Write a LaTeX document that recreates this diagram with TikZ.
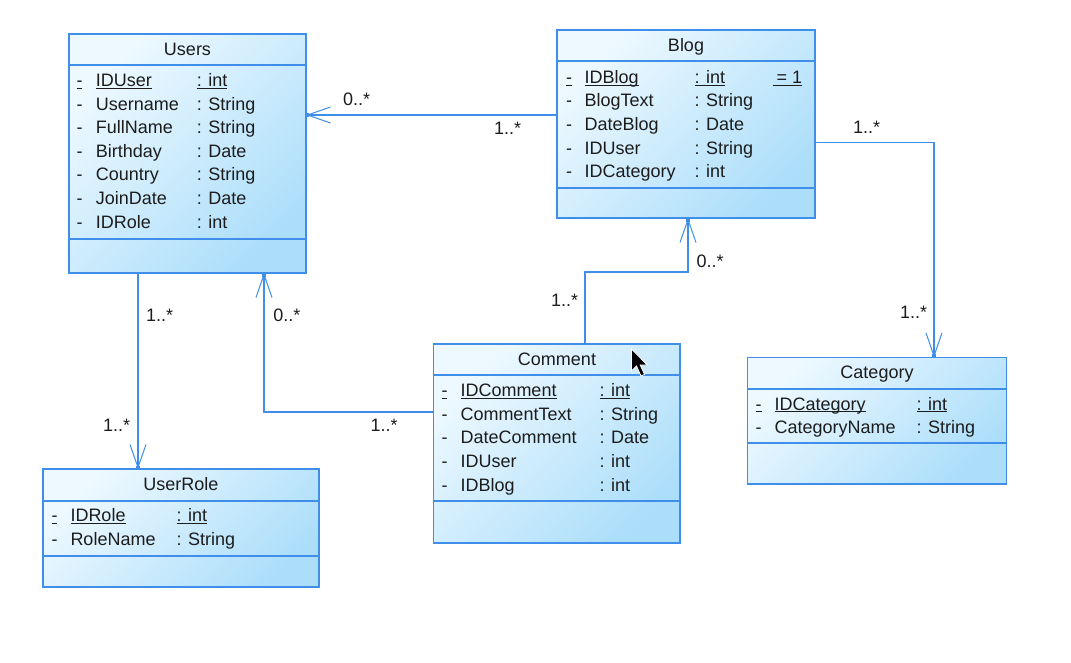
\documentclass[tikz,border=0pt]{standalone}
\usepackage{fontspec}
\setmainfont{Liberation Sans}
\usetikzlibrary{arrows.meta}
\definecolor{bord}{RGB}{62,142,234}
\definecolor{boxlight}{RGB}{238,249,255}
\definecolor{boxdark}{RGB}{172,222,250}
\definecolor{ink}{RGB}{28,28,28}
\newcommand\uline[1]{\setbox0\hbox{#1}\rlap{\rule[-2.4pt]{\wd0}{1pt}}\box0}
\tikzset{
  classbox/.style={draw=bord, line width=1.4pt, top color=boxlight, bottom color=boxdark, shading angle=45, anchor=north west, inner sep=0pt, outer sep=0pt},
  txt/.style={anchor=base west, inner sep=0pt, outer sep=0pt, text=ink, font=\fontsize{18}{22}\selectfont},
  ttl/.style={anchor=base, inner sep=0pt, outer sep=0pt, text=ink, font=\fontsize{18}{22}\selectfont},
  sepline/.style={draw=bord, line width=1.4pt},
  assoc/.style={draw=bord, line width=1.4pt, -{Straight Barb[length=23pt,width=16pt,line width=1pt]}},
  tipdot/.style={fill=bord}
}
% \attr{name}{xdash}{xname}{xtype}{y}{text}{type}
\newcommand\attr[7]{%
  \node[txt] (#1d) at (#2,#5) {-};
  \node[txt] (#1n) at (#3,#5) {#6};
  \node[txt] (#1t) at (#4,#5) {#7};}
\newcommand\keyattr[7]{%
  \node[txt] (#1d) at (#2,#5) {\uline{-}};
  \node[txt] (#1n) at (#3,#5) {\uline{#6}};
  \node[txt] (#1t) at (#4,#5) {\uline{#7}};}
\begin{document}
\begin{tikzpicture}[x=1pt,y=-1pt]
\useasboundingbox[fill=white] (0,0) rectangle (1071,662);

% ---------- Users ----------
\node[classbox, minimum width=237pt, minimum height=239pt] (users) at (69,34) {};
\draw[sepline] (69,65) -- (306,65);
\draw[sepline] (69,239) -- (306,239);
\node[ttl] (usersT) at (187.5,55) {Users};
\keyattr{u1}{76.5}{95.8}{196.8}{86.5}{IDUser}{: int}
\attr{u2}{76.5}{95.8}{196.8}{110.1}{Username}{: String}
\attr{u3}{76.5}{95.8}{196.8}{133.7}{FullName}{: String}
\attr{u4}{76.5}{95.8}{196.8}{157.3}{Birthday}{: Date}
\attr{u5}{76.5}{95.8}{196.8}{180.9}{Country}{: String}
\attr{u6}{76.5}{95.8}{196.8}{204.5}{JoinDate}{: Date}
\attr{u7}{76.5}{95.8}{196.8}{228.1}{IDRole}{: int}

% ---------- Blog ----------
\node[classbox, minimum width=258pt, minimum height=188pt] (blog) at (557,30) {};
\draw[sepline] (557,61) -- (815,61);
\draw[sepline] (557,188) -- (815,188);
\node[ttl] (blogT) at (686,51.7) {Blog};
\keyattr{b1}{566}{584.5}{694.5}{83.3}{IDBlog}{: int}
\node[txt] (b1v) at (772.7,83.3) {\uline{\hspace{4pt}= 1}};
\attr{b2}{566}{584.5}{694.5}{106.9}{BlogText}{: String}
\attr{b3}{566}{584.5}{694.5}{130.5}{DateBlog}{: Date}
\attr{b4}{566}{584.5}{694.5}{154.1}{IDUser}{: String}
\attr{b5}{566}{584.5}{694.5}{177.7}{IDCategory}{: int}

% ---------- Comment ----------
\node[classbox, minimum width=246.5pt, minimum height=199pt] (comment) at (433.5,344) {};
\draw[sepline] (433.5,375) -- (680,375);
\draw[sepline] (433.5,501) -- (680,501);
\node[ttl] (commentT) at (557,365) {Comment};
\keyattr{c1}{441.5}{460.5}{599.5}{396.7}{IDComment}{: int}
\attr{c2}{441.5}{460.5}{599.5}{420.3}{CommentText}{: String}
\attr{c3}{441.5}{460.5}{599.5}{443.9}{DateComment}{: Date}
\attr{c4}{441.5}{460.5}{599.5}{467.5}{IDUser}{: int}
\attr{c5}{441.5}{460.5}{599.5}{491.1}{IDBlog}{: int}

% ---------- Category ----------
\node[classbox, minimum width=259pt, minimum height=126.5pt] (category) at (747.5,357.5) {};
\draw[sepline] (747.5,389) -- (1006.5,389);
\draw[sepline] (747.5,443) -- (1006.5,443);
\node[ttl] (categoryT) at (877,378) {Category};
\keyattr{k1}{755.5}{774.5}{916.5}{410}{IDCategory}{: int}
\attr{k2}{755.5}{774.5}{916.5}{433.6}{CategoryName}{: String}

% ---------- UserRole ----------
\node[classbox, minimum width=276pt, minimum height=118pt] (userrole) at (43,469) {};
\draw[sepline] (43,501) -- (319,501);
\draw[sepline] (43,556) -- (319,556);
\node[ttl] (userroleT) at (181,490) {UserRole};
\keyattr{r1}{51.5}{70.5}{176.5}{521.7}{IDRole}{: int}
\attr{r2}{51.5}{70.5}{176.5}{545.3}{RoleName}{: String}

% ---------- connectors ----------
\draw[assoc] (blog.west |- 0,115) -- (users.east |- 0,115);
\draw[assoc] (blog.east |- 0,142.5) -| (category.north -| 934,0);
\draw[assoc] (comment.north -| 585,0) |- (688,272) -- (blog.south -| 688,0);
\draw[assoc] (comment.west |- 0,412) -| (users.south -| 264,0);
\draw[assoc] (users.south -| 138,0) -- (userrole.north -| 138,0);

\fill[tipdot] (users.east |- 0,115) ++(-0.5,-2) rectangle ++(3.5,4);
\fill[tipdot] (category.north -| 934,0) ++(-2,-3.5) rectangle ++(4,3.5);
\fill[tipdot] (blog.south -| 688,0) ++(-2,0) rectangle ++(4,3.5);
\fill[tipdot] (users.south -| 264,0) ++(-2,0) rectangle ++(4,3.5);
\fill[tipdot] (userrole.north -| 138,0) ++(-2,-3.5) rectangle ++(4,3.5);

% ---------- multiplicities ----------
\node[txt] (m1) at (343,105.7) {0..*};
\node[txt] (m2) at (494,134) {1..*};
\node[txt] (m3) at (853,133.3) {1..*};
\node[txt] (m4) at (900,318.3) {1..*};
\node[txt] (m5) at (551,306) {1..*};
\node[txt] (m6) at (696.5,267.3) {0..*};
\node[txt] (m7) at (273.3,321) {0..*};
\node[txt] (m8) at (370.5,431.7) {1..*};
\node[txt] (m9) at (146,321) {1..*};
\node[txt] (m10) at (103,431.7) {1..*};

% ---------- mouse pointer ----------
\filldraw[fill=black, draw=white, line width=0.8pt, line join=miter]
  (631.5,349) -- ++(0,22) -- ++(5,-5) -- ++(4.5,10) -- ++(3.5,-1.6) -- ++(-4.3,-9.4) -- ++(7,0) -- cycle;
\end{tikzpicture}
\end{document}
